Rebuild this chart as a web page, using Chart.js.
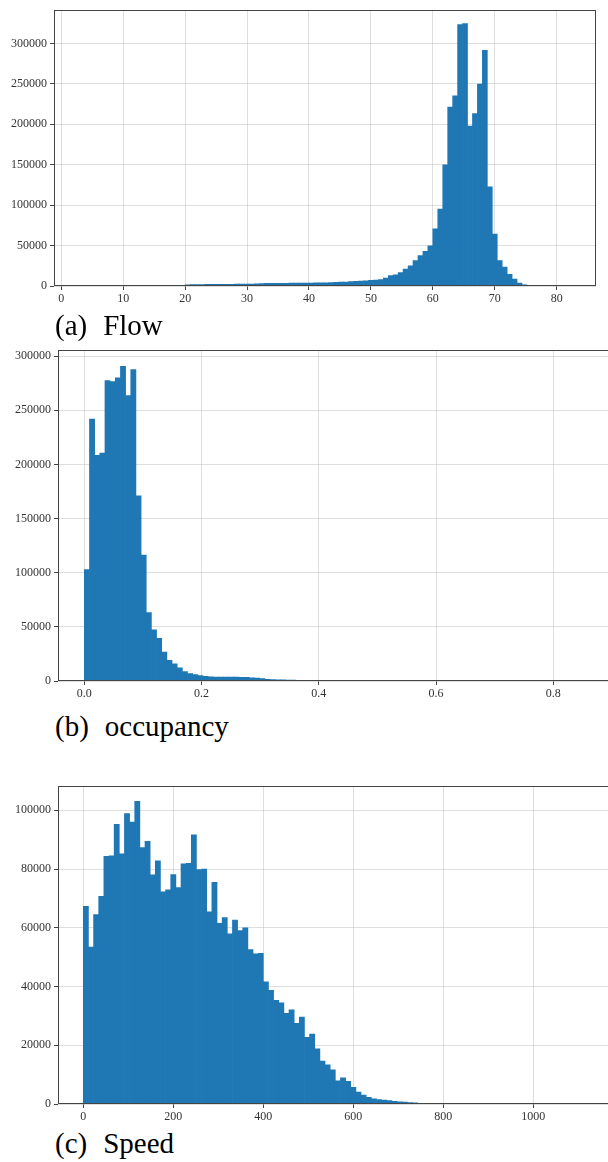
<!DOCTYPE html>
<html><head><meta charset="utf-8">
<script src="https://cdn.jsdelivr.net/npm/chart.js@4.4.0/dist/chart.umd.min.js"></script>
<style>
html,body{margin:0;padding:0;background:#fff;overflow:hidden;}
#wrap{position:relative;width:608px;height:1162px;overflow:hidden;background:#fff;}
canvas{position:absolute;left:0;}
.cap{position:absolute;left:55px;font-family:'Liberation Serif','DejaVu Serif',serif;font-size:29px;line-height:29px;color:#000;white-space:pre;}
.cap span{margin-left:16px;}
</style></head><body>
<div id="wrap">
<canvas id="c1" width="608" height="305" style="top:0px"></canvas>
<canvas id="c2" width="640" height="360" style="top:340px"></canvas>
<canvas id="c3" width="640" height="347" style="top:776px"></canvas>
<div class="cap" style="top:311px">(a)<span>Flow</span></div>
<div class="cap" style="top:712px">(b)<span>occupancy</span></div>
<div class="cap" style="top:1129px">(c)<span>Speed</span></div>
</div>
<script>
// ---------- DATA ----------
const captions = ['(a)  Flow', '(b)  occupancy', '(c)  Speed'];

// Flow histogram (100 bins)
const flowBinStart = 2.4;
const flowBinWidth = 0.8;
const flowCounts = [
  50,0,0,0,0,0,0,0,0,0,
  0,0,0,0,0,0,0,0,0,100,
  300,900,1500,1700,1800,1900,2000,2000,2100,2100,
  2200,2200,2300,2300,2400,2500,2600,3000,3200,3300,
  3300,3400,3400,3500,3500,3600,3600,3700,3800,3900,
  4000,4200,4400,4700,5000,5400,5800,6200,6500,7000,
  7400,7800,9800,13000,13900,16700,20800,24900,31400,37600,
  42900,49800,70600,95100,149800,221200,235100,323300,324500,197600,
  213100,249800,291500,122500,64100,31400,23300,14300,8600,3700,
  1600,400,150,80,40,20,10,5,0,2
];
const flowXTicks = [0,10,20,30,40,50,60,70,80];
const flowYTicks = [0,50000,100000,150000,200000,250000,300000];

// Occupancy histogram (100 bins)
const occBinStart = 0;
const occBinWidth = 0.0088;
const occCounts = [
  103000,242000,208500,210500,277500,276500,280000,290500,263500,287500,
  171000,116200,63200,47200,39500,26800,19200,15800,12100,8600,
  6800,5900,5000,4300,3800,3700,3700,3700,3600,3600,
  3400,3300,2900,2700,2200,1600,1400,1100,1000,900,
  800,700,400,150,80,40,20,10,5,0,
  0,0,0,0,0,0,0,0,0,0,
  0,0,0,0,0,0,0,0,0,0,
  0,0,0,0,0,0,0,0,0,0,
  0,0,0,0,0,0,0,0,0,0,
  0,0,0,0,0,0,0,0,0,1
];
const occXTicks = [0,0.2,0.4,0.6,0.8];
const occYTicks = [0,50000,100000,150000,200000,250000,300000];

// Speed histogram (100 bins)
const speedBinStart = 0;
const speedBinWidth = 11.43;
const speedCounts = [
  67300,53400,64500,70700,84300,84500,95200,85200,98900,96000,
  103000,87300,89400,78000,82800,72200,72900,78100,73700,81800,
  81900,91600,79800,80000,65400,75500,61500,63500,57900,62600,
  59000,60000,52600,51100,51300,41600,38700,35300,34400,30900,
  32100,27500,29600,22700,23800,18800,14600,13300,11600,7900,
  8900,7700,5650,4100,3050,2260,1800,1470,1300,1150,
  950,750,650,480,400,250,200,60,20,10,
  5,0,0,0,0,0,0,0,0,0,
  0,0,0,0,0,0,0,0,0,0,
  0,0,0,0,0,0,0,0,0,1
];
const speedXTicks = [0,200,400,600,800,1000];
const speedYTicks = [0,20000,40000,60000,80000,100000];

// ---------- RENDER ----------
const BAR = '#1f77b4';
const GRID = 'rgba(190,190,190,0.5)';
const AXIS = '#444444';
const TICKFONT = {family: "'Liberation Serif','DejaVu Serif',serif", size: 12};

const framePlugin = {
  id: 'frame',
  afterDraw(chart) {
    const a = chart.chartArea, ctx = chart.ctx;
    ctx.save();
    ctx.strokeStyle = AXIS;
    ctx.lineWidth = 1;
    ctx.strokeRect(Math.round(a.left) + 0.5, Math.round(a.top) + 0.5,
                   Math.round(a.right - a.left) - 1, Math.round(a.bottom - a.top) - 1);
    ctx.restore();
  }
};

function makeHist(id, binStart, binWidth, counts, xTicks, yTicks, xFmt, o) {
  const pts = counts.map((c, i) => ({x: binStart + (i + 0.5) * binWidth, y: c}));
  return new Chart(document.getElementById(id), {
    type: 'bar',
    data: {datasets: [{data: pts, backgroundColor: BAR, borderWidth: 0,
                       barPercentage: 1, categoryPercentage: 1}]},
    options: {
      responsive: false, animation: false, devicePixelRatio: 1,
      layout: {padding: {top: o.top, right: o.right, left: 0, bottom: 0}},
      plugins: {legend: {display: false}, tooltip: {enabled: false}},
      scales: {
        x: {
          type: 'linear', offset: false, min: o.xmin, max: o.xmax, z: 1,
          afterBuildTicks: s => { s.ticks = xTicks.map(v => ({value: v})); },
          afterFit: s => { s.height = 19; },
          ticks: {callback: v => xFmt(v), font: TICKFONT, color: '#333', padding: 2, maxRotation: 0, autoSkip: false},
          grid: {offset: false, color: GRID, lineWidth: 1, tickLength: 4, tickColor: AXIS},
          border: {display: false}
        },
        y: {
          type: 'linear', min: 0, max: o.ymax, z: 1,
          afterBuildTicks: s => { s.ticks = yTicks.map(v => ({value: v})); },
          afterFit: s => { s.width = o.yw; },
          ticks: {callback: v => String(v), font: TICKFONT, color: '#333', padding: 3},
          grid: {offset: false, color: GRID, lineWidth: 1, tickLength: 4, tickColor: AXIS},
          border: {display: false}
        }
      }
    },
    plugins: [framePlugin]
  });
}

makeHist('c1', flowBinStart, flowBinWidth, flowCounts, flowXTicks, flowYTicks, v => String(v),
  {top: 7, right: 12, xmin: -1.18, xmax: 86.35, ymax: 341000, yw: 54});
makeHist('c2', occBinStart, occBinWidth, occCounts, occXTicks, occYTicks, v => v.toFixed(1),
  {top: 7, right: 11, xmin: -0.0449, xmax: 0.929, ymax: 305500, yw: 58});
makeHist('c3', speedBinStart, speedBinWidth, speedCounts, speedXTicks, speedYTicks, v => String(v),
  {top: 7, right: 16, xmin: -56.2, xmax: 1201.6, ymax: 108190, yw: 58});
</script>
</body></html>
